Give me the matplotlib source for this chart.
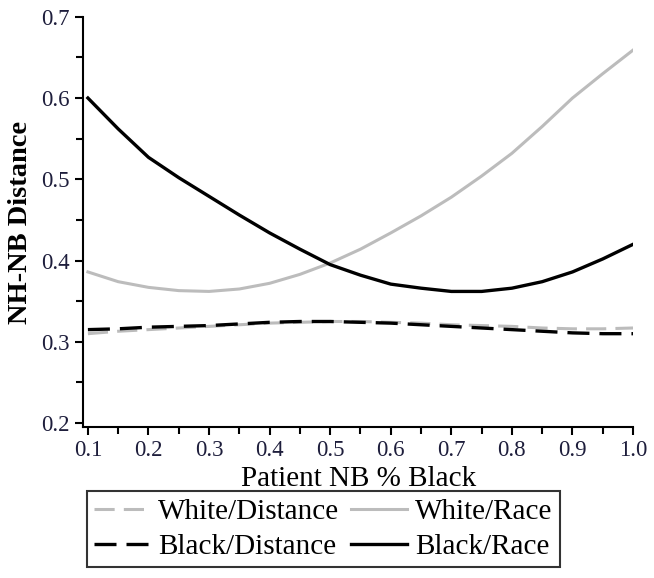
import numpy as np
import matplotlib.pyplot as plt
from matplotlib.ticker import MultipleLocator

plt.rcParams['font.family'] = ['Liberation Serif', 'DejaVu Serif']

x = [0.10, 0.15, 0.20, 0.25, 0.30, 0.35, 0.40, 0.45, 0.50, 0.55,
     0.60, 0.65, 0.70, 0.75, 0.80, 0.85, 0.90, 0.95, 1.00]
white_race = [0.386, 0.374, 0.367, 0.363, 0.362, 0.365, 0.372, 0.383, 0.397, 0.414,
              0.434, 0.455, 0.478, 0.504, 0.532, 0.565, 0.600, 0.630, 0.659]
black_race = [0.600, 0.562, 0.527, 0.502, 0.479, 0.456, 0.434, 0.414, 0.395, 0.382,
              0.371, 0.366, 0.362, 0.362, 0.366, 0.374, 0.386, 0.402, 0.420]
white_dist = [0.310, 0.313, 0.315, 0.317, 0.319, 0.321, 0.323, 0.324, 0.325, 0.325,
              0.324, 0.323, 0.321, 0.320, 0.319, 0.317, 0.316, 0.316, 0.317]
black_dist = [0.315, 0.316, 0.318, 0.319, 0.320, 0.322, 0.324, 0.325, 0.325, 0.324,
              0.323, 0.321, 0.319, 0.317, 0.315, 0.313, 0.311, 0.310, 0.310]

grey = '#bcbcbc'
tickcol = '#1e1e3c'

fig = plt.figure(figsize=(6.54, 5.78), dpi=100)
ax = fig.add_axes([0.127, 0.261, 0.841, 0.710])

l1, = ax.plot(x, white_dist, color=grey, lw=2.2, ls=(0, (6.6, 3)), label='White/Distance')
l2, = ax.plot(x, black_dist, color='black', lw=2.4, ls=(0, (6.6, 3)), label='Black/Distance')
l3, = ax.plot(x, white_race, color=grey, lw=2.2, label='White/Race')
l4, = ax.plot(x, black_race, color='black', lw=2.4, label='Black/Race')

ax.set_xlim(0.092, 1.0)
ax.set_ylim(0.195, 0.7)
ax.set_xticks([0.1, 0.2, 0.3, 0.4, 0.5, 0.6, 0.7, 0.8, 0.9, 1.0])
ax.set_xticklabels(['0.1', '0.2', '0.3', '0.4', '0.5', '0.6', '0.7', '0.8', '0.9', '1.0'])
ax.set_yticks([0.2, 0.3, 0.4, 0.5, 0.6, 0.7])
ax.xaxis.set_minor_locator(MultipleLocator(0.05))
ax.yaxis.set_minor_locator(MultipleLocator(0.05))
ax.tick_params(which='major', length=6, width=1.5, labelsize=16.5, labelcolor=tickcol)
ax.tick_params(axis='x', which='major', pad=3)
ax.tick_params(which='minor', length=5, width=1.5)
for s in ['top', 'right']:
    ax.spines[s].set_visible(False)
for s in ['left', 'bottom']:
    ax.spines[s].set_linewidth(1.5)

ax.set_xlabel('Patient NB % Black', fontsize=21, labelpad=4)
ax.set_ylabel('NH-NB Distance', fontsize=20.5, fontweight='bold', labelpad=6)

leg = fig.legend(handles=[l1, l2, l3, l4], loc='upper left', bbox_to_anchor=(0.133, 0.150),
                 ncol=2, fontsize=21, frameon=True, fancybox=False, edgecolor='black',
                 handlelength=1.9, handletextpad=0.3, columnspacing=0.4,
                 labelspacing=0.3, borderpad=0.25, borderaxespad=0)
leg.get_frame().set_linewidth(1.5)

fig.savefig('out.png', dpi=100)
